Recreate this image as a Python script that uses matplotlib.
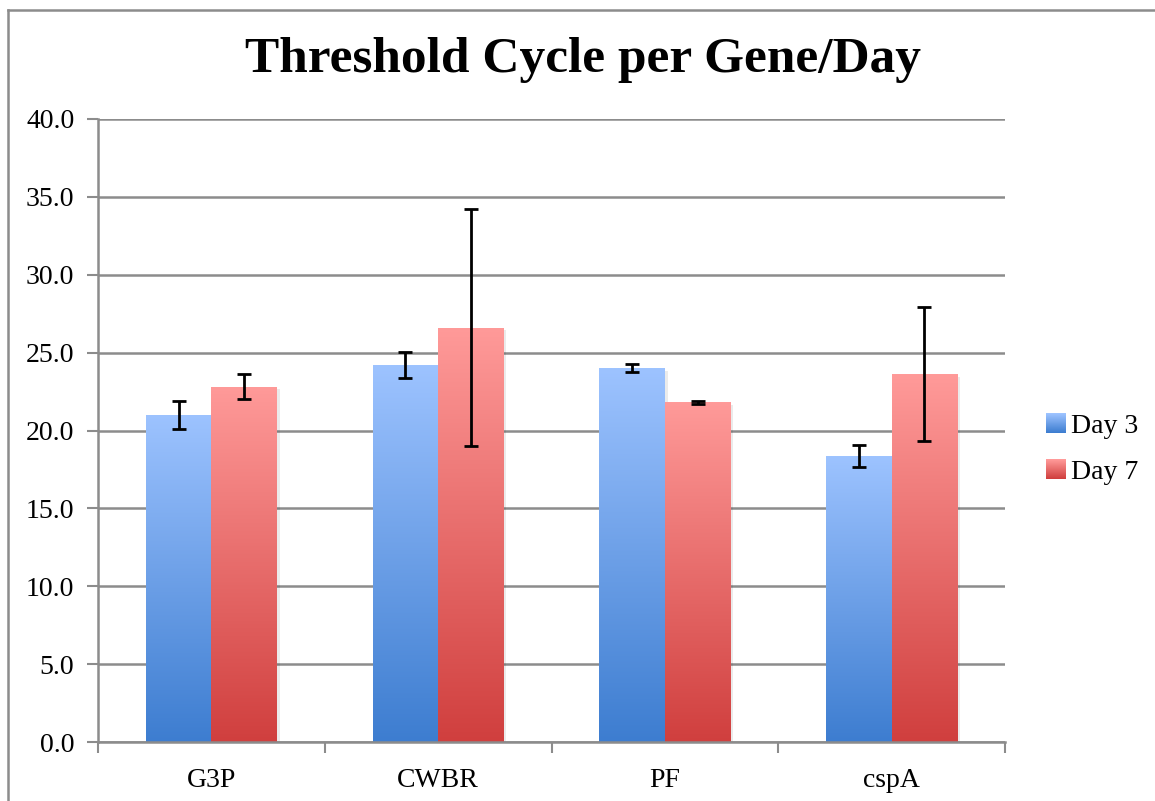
import numpy as np
import matplotlib
matplotlib.use("Agg")
import matplotlib.pyplot as plt
from matplotlib.patches import Rectangle
from matplotlib.legend_handler import HandlerBase
from matplotlib.colors import LinearSegmentedColormap, to_rgb
from matplotlib.lines import Line2D

categories = ["G3P", "CWBR", "PF", "cspA"]
series_names = ["Day 3", "Day 7"]
day3 = [21.0, 24.2, 24.0, 18.35]
day3_err = [0.9, 0.85, 0.27, 0.7]
day7 = [22.8, 26.6, 21.8, 23.6]
day7_err = [0.8, 7.6, 0.12, 4.3]
yticks = [0, 5, 10, 15, 20, 25, 30, 35, 40]

blue_top, blue_bot = "#9dc3ff", "#3d7dd0"
red_top, red_bot = "#ff9a99", "#d03f3e"

plt.rcParams['font.family'] = ['Liberation Serif', 'DejaVu Serif']

fig = plt.figure(figsize=(11.55, 8.01), dpi=100)
ax = fig.add_axes([98/1155, 1-742/801, (1005-98)/1155, (742-119)/801])

x = np.arange(len(categories))
w = 0.289

def grad_bar(ax, x0, h, width, ctop, cbot):
    cmap = LinearSegmentedColormap.from_list("g", [cbot, ctop])
    grad = np.linspace(0, 1, 256).reshape(-1, 1)
    ax.add_patch(Rectangle((x0 + 0.012, -0.15), width, h, facecolor="#000000",
                           alpha=0.08, edgecolor="none", zorder=2))
    rect = Rectangle((x0, 0), width, h, facecolor="none", edgecolor="none", zorder=3)
    ax.add_patch(rect)
    im = ax.imshow(grad, cmap=cmap, aspect="auto", origin="lower",
                   extent=[x0, x0 + width, 0, h], zorder=3, interpolation="bilinear")
    im.set_clip_path(rect)

for i in range(len(categories)):
    grad_bar(ax, x[i] - w, day3[i], w, blue_top, blue_bot)
    grad_bar(ax, x[i], day7[i], w, red_top, red_bot)

ax.errorbar(x - w/2, day3, yerr=day3_err, fmt="none", ecolor="black",
            elinewidth=2, capsize=4.8, capthick=2, zorder=5)
ax.errorbar(x + w/2, day7, yerr=day7_err, fmt="none", ecolor="black",
            elinewidth=2, capsize=4.8, capthick=2, zorder=5)

ax.set_xlim(-0.5, len(categories) - 0.5)
ax.set_ylim(0, 40)
ax.set_yticks(yticks)
ax.set_yticklabels([f"{v:.1f}" for v in yticks])
ax.set_xticks(x)
ax.set_xticklabels(categories)
ax.set_xticks(np.arange(len(categories) + 1) - 0.5, minor=True)
ax.tick_params(axis="x", which="major", length=0, pad=19, labelsize=20)
ax.tick_params(axis="x", which="minor", length=8, width=1.5, color="#8c8c8c", direction="out")
ax.tick_params(axis="y", length=8, width=1.5, color="#8c8c8c", pad=9, labelsize=20)
ax.yaxis.grid(True, color="#8c8c8c", linewidth=1.8)
ax.set_axisbelow(True)
for s in ["top", "right"]:
    ax.spines[s].set_visible(False)
for s in ["left", "bottom"]:
    ax.spines[s].set_color("#8c8c8c")
    ax.spines[s].set_linewidth(1.8)
ax.spines["bottom"].set_zorder(6)

fig.text(583/1155, 1-60/801, "Threshold Cycle per Gene/Day", ha="center", va="center",
         fontsize=37, fontweight="bold")

class GradHandler(HandlerBase):
    def __init__(self, ctop, cbot):
        super().__init__()
        self.ctop, self.cbot = np.array(to_rgb(ctop)), np.array(to_rgb(cbot))
    def create_artists(self, legend, orig_handle, xdescent, ydescent, width, height, fontsize, trans):
        n = 20
        side = height * 1.0
        x0 = -xdescent + (width - side)
        y0 = -ydescent - (side - height) / 2
        arts = []
        for k in range(n):
            t = k / (n - 1)
            c = self.cbot * (1 - t) + self.ctop * t
            r = Rectangle((x0, y0 + side * k / n), side, side / n + 0.3, facecolor=c,
                          edgecolor="none", transform=trans)
            arts.append(r)
        return arts

h3 = Rectangle((0, 0), 1, 1)
h7 = Rectangle((0, 0), 1, 1)
leg = fig.legend([h3, h7], series_names, loc="center left",
                 bbox_to_anchor=(1020/1155, 1-449/801), frameon=False, fontsize=20,
                 handler_map={h3: GradHandler(blue_top, blue_bot), h7: GradHandler(red_top, red_bot)},
                 handlelength=0.75, handletextpad=0.2, labelspacing=0.75)

fig.add_artist(Line2D([8/1155, 8/1155], [0, 1-10/801], color="#8c8c8c", linewidth=1.8))
fig.add_artist(Line2D([8/1155, 1], [1-10/801, 1-10/801], color="#8c8c8c", linewidth=1.8))

fig.savefig("out.png", dpi=100)
